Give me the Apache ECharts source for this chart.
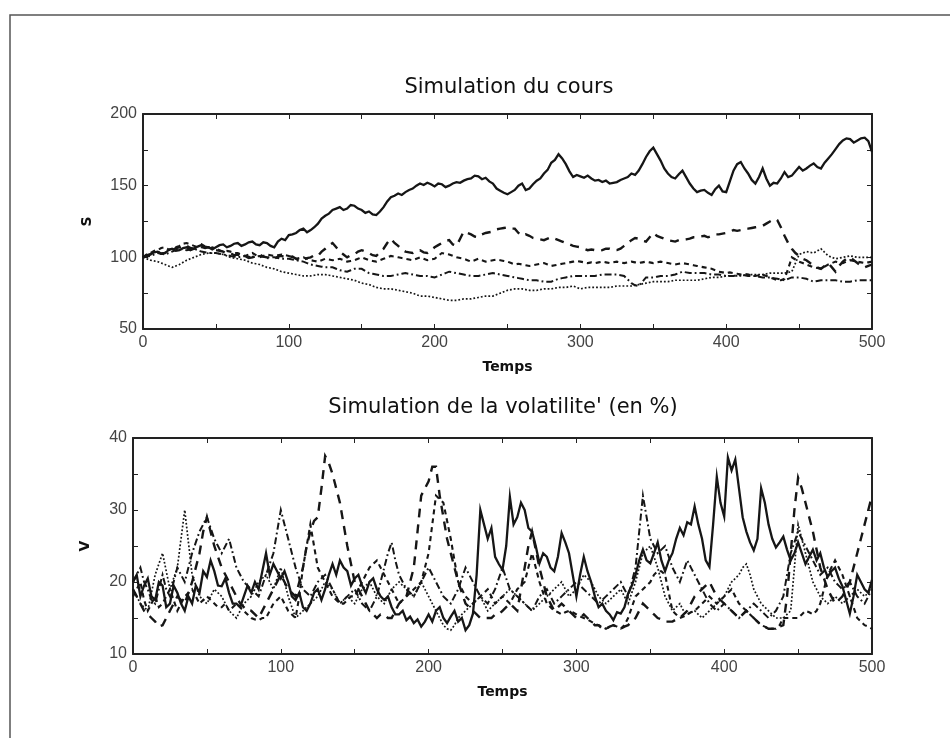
<!DOCTYPE html>
<html>
<head>
<meta charset="utf-8">
<title>Simulation du cours et de la volatilité</title>
<script src="https://cdn.jsdelivr.net/npm/echarts@6/dist/echarts.min.js"></script>
<style>
  html, body { margin: 0; padding: 0; background: #fff; }
  #chart { width: 950px; height: 738px; }
</style>
</head>
<body>
<div id="chart"></div>
<script>
// Time grid shared by every path (one value every 2.5 steps)
const temps = [
  0,2.5,5,7.5,10,12.5,15,17.5,20,22.5,25,27.5,30,32.5,35,37.5,40,42.5,45,47.5,
  50,52.5,55,57.5,60,62.5,65,67.5,70,72.5,75,77.5,80,82.5,85,87.5,90,92.5,95,97.5,
  100,102.5,105,107.5,110,112.5,115,117.5,120,122.5,125,127.5,130,132.5,135,137.5,140,142.5,145,147.5,
  150,152.5,155,157.5,160,162.5,165,167.5,170,172.5,175,177.5,180,182.5,185,187.5,190,192.5,195,197.5,
  200,202.5,205,207.5,210,212.5,215,217.5,220,222.5,225,227.5,230,232.5,235,237.5,240,242.5,245,247.5,
  250,252.5,255,257.5,260,262.5,265,267.5,270,272.5,275,277.5,280,282.5,285,287.5,290,292.5,295,297.5,
  300,302.5,305,307.5,310,312.5,315,317.5,320,322.5,325,327.5,330,332.5,335,337.5,340,342.5,345,347.5,
  350,352.5,355,357.5,360,362.5,365,367.5,370,372.5,375,377.5,380,382.5,385,387.5,390,392.5,395,397.5,
  400,402.5,405,407.5,410,412.5,415,417.5,420,422.5,425,427.5,430,432.5,435,437.5,440,442.5,445,447.5,
  450,452.5,455,457.5,460,462.5,465,467.5,470,472.5,475,477.5,480,482.5,485,487.5,490,492.5,495,497.5,
  500
];

// ---- Price paths S ----
const coursTrait = [
  100,101.5,102,103.5,104,102.5,103,105,106,104.5,105,106.5,107,105,106,107.5,108.5,106.5,107,105.5,
  107,108.5,109,107,108,109.5,110,108,109,110.5,111,109,108.5,110.5,110,108,107,111,113,112,
  115.5,116,117,119,120,117.5,119,121,123.5,127,129,130.5,133,134,135,133,134,136.5,136,134,
  133,131,132,130,129.5,132,135,139,142,143,144.5,143.5,145.5,147,148,150,151.5,150.5,152,151,
  149.5,151.5,151,149,150,151.5,152.5,152,153.5,154.5,155,157,156.5,154.5,155.5,153,151.5,148,146.5,145,
  144,145.5,147,150,151.5,147,148,151,153.5,155,158.5,161,166,168,172,169,165,160,156,157.5,
  156.5,155.5,157,155,153.5,154,152.5,153.5,151.5,152,152.5,154,155,156,158.5,157.5,160.5,165,170,174,
  176.5,172,167.5,162,158.5,156,155,158,160.5,156,151.5,148,145.5,146.5,147,145,143.5,147.5,150,146,
  145.5,153,160.5,165,166.5,162,158.5,154,151.5,156,162,155,150,152,151.5,155,159.5,156,157,160,
  163,160.5,162,164,165.5,163,162,166,169,172,175.5,179,181.5,183,182.5,180,181.5,183,183.5,181,
  173.5
];
const coursTiretLong = [
  100,101,102,103.5,104,102.5,103,104.5,105,106.5,107,108.5,108,106.5,106,108,109,107.5,107,106,
  105,104.5,104,102.5,103,101.5,102,100.5,101,99.5,100,101.5,102,100.5,100,98.5,99,100.5,101,100,
  100,100.5,99,97.5,98,99.5,100,101.5,101,104,106,108.5,110,107,104,102,100,101.5,102,104,
  105,104,103,101.5,101,103.5,106,110,113,110,108,105.5,104,103.5,103,104.5,105,103.5,103,105,
  107,108.5,110,111.5,112,109,108,113,118,117,116,114.5,114,116,117,117.5,118,119.5,120,120.5,
  121,120,120,117,115,116,115,113.5,113,112.5,112,113,114,113,112,111,110,109,108,107.5,
  107,106,105,105.5,105,104.5,105,106,106,105,105,106,108,110,112,113.5,113,111.5,111,114,
  117,115,114,113,112,111.5,111,112,112,112.5,113,114,114,114.5,115,114,115,116,116,116.5,
  117,118,119,118.5,119,120,120,120.5,121,121.5,122,123.5,125,126.5,126,121,115,110,106,103,
  101,99,98,96,95,93,92,94,96,93,90,94,97,99,100,98,96,94,93,94,
  95
];
const coursTiret = [
  100,102,103,104.5,105,106.5,107,105.5,106,107,108,109.5,110,109,108,107,107,106.5,106,107,
  106,105,104,104.5,104,103,103,102,101,102,103,101.5,100,101,102,101.5,101,101.5,102,101.5,
  101,100,99,99.5,100,99,98,97.5,97,98,99,98.5,98,98.5,99,98,97,97.5,98,99,
  100,99,98,97.5,97,98,99,100,101,100.5,100,99.5,99,98.5,98,99,100,99,98,98.5,
  99,101,103,102.5,102,101,100,99.5,99,98,97,98,99,98,97,97.5,98,98.5,98,97.5,
  97,96,95,95.5,95,94.5,94,94.5,95,95.5,96,95,94,94.5,95,95.5,96,96.5,97,97.5,
  97,96.5,96,96.5,96,96.5,97,96.5,96,96.5,97,96.5,96,96.5,97,96.5,96,96.5,97,96.5,
  96,96.5,97,96.5,96,95.5,95,95.5,96,95.5,95,94.5,94,93.5,93,92.5,92,91,90,89.5,
  89,89.5,89,88.5,88,88.5,88,87.5,87,87.5,88,87,86,85,84,84,85,92,100,98.5,
  97,96,95,94,93,92.5,92,93.5,95,96,97,96.5,96,97,98,97.5,97,96.5,96,96.5,
  97
];
const coursTiretPoint = [
  100,100.5,101,102,103,102.5,102,103,104,105,106,105.5,105,105.5,106,105,104,103.5,103,103,
  103,102.5,102,101.5,101,100.5,100,100.5,101,100.5,100,100.5,101,100.5,100,100,100,99.5,99,99,
  99,98.5,98,97.5,97,96,95,94.5,94,93.5,93,93,93,92,91,90.5,90,91,92,92,
  92,90.5,89,88.5,88,87.5,87,87,87,87.5,88,88.5,89,88.5,88,87.5,87,87,87,86.5,
  86,87,88,89,90,89.5,89,88.5,88,87.5,87,87,87,87.5,88,88.5,89,88.5,88,87.5,
  87,86.5,86,85.5,85,84.5,84,84,84,83.5,83,83,83,84,85,85.5,86,86.5,87,87,
  87,87,87,87,87,87.5,88,88,88,88,88,87.5,87,84.5,82,80.5,80,83,86,86,
  86,86.5,87,87,87,87.5,88,89,90,89.5,89,89,89,89,89,88.5,88,88,88,87.5,
  87,87,87,87.5,88,87.5,87,87,87,86.5,86,86,86,85.5,85,84.5,84,85,86,86,
  86,85.5,85,84,83,83.5,84,84,84,84,84,83.5,83,83,83,83.5,84,84,84,84,
  84
];
const coursPointille = [
  100,99,98,97.5,97,96,95,94,93,94,95,96.5,98,99,100,101,102,102.5,103,103,
  103,102.5,102,101,100,99.5,99,98.5,98,97,96,95.5,95,94,93,92.5,92,91,90,89.5,
  89,88.5,88,87.5,87,87,87,87.5,88,88,88,87.5,87,86.5,86,85.5,85,84.5,84,83,
  82,81.5,81,80,79,78.5,78,78,78,77.5,77,76.5,76,75.5,75,74,73,73,73,72.5,
  72,71.5,71,70.5,70,70,70,70.5,71,71,71,71.5,72,72.5,73,73,73,74,75,76,
  77,77.5,78,78,78,77.5,77,77,77,77.5,78,78,78,78.5,79,79,79,79.5,80,79,
  78,78.5,79,79,79,79,79,79,79,79.5,80,80,80,80,80,80.5,81,81.5,82,82.5,
  83,83,83,83,83,83.5,84,84,84,84,84,84,84,84.5,85,85.5,86,86,86,86.5,
  87,87,87,87,87,87.5,88,88,88,88,88,88.5,89,89,89,89,89,89.5,90,96,
  102,103,104,103.5,103,104.5,106,103.5,101,100,99,99.5,100,100.5,101,100.5,100,100,100,100,
  100
];

// ---- Volatility paths V (in %) ----
const volTrait = [
  20,21,18,19.5,20.5,18,17.5,20,19.5,16.5,17,19.5,18.5,17,16,18,17,19.5,18.5,21.5,
  20.7,23,21.5,19.5,19.4,20.5,18.5,17,17,16.5,18,19.5,18.5,20,19,21.5,24,21,22.5,21.5,
  20.5,21.5,20,18,17.5,18.5,16.5,16,17,18.5,19,17.5,19,21,22.5,21,23,22,21.5,19.5,
  20.5,21,19.5,18.5,20,20.5,19,18,17.5,18,16.5,15.5,15.5,16,14.7,15.2,14.3,14.8,13.8,14.5,
  15.5,14.5,16,16.5,15,14.3,15.2,16,14.5,15,13.3,14,15.6,21,30,28,26,27.5,23.5,22.5,
  21.7,25,31.8,28,29,31,30,27.5,27,25,22.6,24,23.5,22,21.5,23.5,26.8,25.5,24,21,
  18,21,23.5,21.5,20,18,16.5,17,16,15.5,14.7,15.8,15.6,16.5,18.4,19.5,21,23,24.5,23,
  22.6,24,25.5,23,21.5,23,24,26,27.5,26.5,28.3,28,30.5,28,26,23,22.1,28,34.6,31,
  29.1,37.3,35.5,37,33,29,27,25.5,24.4,26,33,31,28,26,24.8,25.5,26.3,24.5,23,24,
  25.5,24,22.5,23.5,24.5,23,24,22,20.7,21.5,22,20.5,19.4,17.5,15.6,18,21,20,19,18.5,
  20.3
];
const volTiretLong = [
  19,18,17,16,15.5,15,14.5,13.8,14,15,16,17,18,17.5,17,18.5,20,22,24,27,
  29,27,25,23.5,22,21,20,19,18,17,16.5,16,16,15.5,15,16,17,18,19,20,
  21,20,19,18.5,18,20,22,25,27,28.5,29,33,37.5,36.5,35,33,31,28,25,22.5,
  20,19,18,17,16,15.5,15,15.5,15.5,15,15,16,17,17.5,18,20,22,27,32,33,
  34,36,36,32,29,26,24,22,20,18.5,17,16.5,16,15.5,15,15,15,15,15.5,15.5,
  16,16.5,17,16.5,16,19,22,25,27,24.5,22,20,18,17,16,16.5,17,16.5,16,15.5,
  15,15,15.5,15,14.5,14,14,13.5,13.5,13.8,14,13.8,13.5,13.8,14,14.5,15,16,17,16.5,
  16,15.5,15,14.8,14.5,14.5,14.5,14.8,15,15.5,16,17,18,18.5,19,19.5,20,19,18,17.5,
  17,16.5,16,15.5,15,15.5,16,15.5,15,14.5,14,13.8,13.5,13.5,13.5,13.8,14,18,24,30,
  34.5,33,31,29,27,24.5,22,20.5,19,18,17,17.5,18,19,20,22,24,26,28,30,
  32
];
const volTiret = [
  18,19,20,17.5,16,17,18,16.5,17,18,19,17.5,16,17,18,18.5,19,18,17,17.5,
  18,17.5,17,16.5,16.5,17,16,16.5,17,16.5,16,15.5,15,14.8,14.7,15,15,16,17,17.5,
  18,17,16,15.5,15,18,22,25,28,25,22,21,20,19,18,17.5,17,17,17.5,18,
  18,19,20,21,22,22.5,23,22,21,20,19,18,17,17.5,18,18.5,19,19.5,20,22,
  24,28,32,31.5,31,28.5,26,23,20,19,18,17.5,17,17.5,18,18.5,19,18,17,17.5,
  18,17.5,17,18,19,19.5,20,22,24,22,20,18.5,17,16.5,16,15.8,15.5,15.8,16,15.8,
  15.5,15.2,15,14.8,14.5,14.2,14,13.8,13.5,13.8,14,13.8,13.5,14,15,16.5,18,18.5,19,19.5,
  20,21,21.5,21.5,21,18.5,16,15.5,15,15.2,15.5,15.8,16,16.5,17,17.5,18,17.5,17,17.5,
  18,18.5,19,18,17,16.5,16,15.5,15,14.5,14,13.8,13.5,13.5,13.5,14,15,15,15,15,
  15,15.5,16,15.8,15.5,16,17,19,21,22,23,22,21,19.5,18,16.5,15,14.5,14,13.8,
  13.5
];
const volTiretPoint = [
  20,21,22,20,19,17.5,17,19,21,19,18,20,22,21,20,22,24,25.5,27,28,
  29,27.5,26,25,24,25,26,24,22,21,20,19.5,19,18.5,18,19.5,21,22.5,24,27,
  30,28,26,24,22,20.5,19,18.5,18,19,20,20.5,21,20,19,18,17,17.5,18,18.5,
  19,18,17,16.5,16,17,18,20,22,24,25.5,23,21,20,19,18.5,18,19,20,21,
  22,21,20,19,18,17.5,17,18,19,20.5,22,21,20,19,18,17.5,17,18,19,20.5,
  22,20.5,19,18.5,18,17.5,17,16.5,16,17,18,18.5,19,18,17,17.5,18,18.5,19,19.5,
  20,19.5,19,18.5,18,17.5,17,17.5,18,18.5,19,19.5,20,19,18,20,22,27,32,29,
  26,25,24,24.5,25,23.5,22,21,20,21.5,23,22,21,20,19,18,17,16.5,16,16.5,
  17,16.5,16,15.5,15,15.5,16,16.5,17,16.5,16,15.5,15,15.5,16,17,18,21,24,25.5,
  27,26,25,24,23,22,21,21.5,22,21,20,19.5,19,19.5,20,19,18,17.5,17,18,
  19
];
const volPointille = [
  19,18,17,16.5,16,18.5,21,22.5,24,21.5,19,20.5,22,26,30,25.5,21,19.5,18,17.5,
  17,18,19,18.5,18,17,16,15.5,15,16,17,17.5,18,19,20,20.5,21,20,19,20.5,
  22,20,18,16.5,15,15.5,16,16.5,17,17.5,18,19,20,19.5,19,18,17,17.5,18,17.5,
  17,18,19,19.5,20,19,18,17.5,17,18,19,19.5,20,19.5,19,18.5,18,19,20,19,
  18,17,16,15,14,13.5,13.3,14,15,15.5,16,16.5,17,17.5,18,17,16,16.5,17,17.5,
  18,18.5,19,18.5,18,17.5,17,16.5,16,16.5,17,17.5,18,18.5,19,19.5,20,19,18,18.5,
  19,20,21,20.5,20,19,18,17.5,17,17.5,18,18.5,19,18,17,18.5,20,22,24,24.5,
  25,23.5,22,20,18,17,16,16.5,17,16,15.5,15.8,16,15.5,15,15.5,16,16.5,17,17.5,
  18,19,20,20.5,21,22,22.5,21,19,18,17,16.5,16,15.5,15,15,15,15.5,16,22,
  28,26,24,22,20,19,18,17.5,17,17.5,18,17.5,17,17.5,18,18.5,19,18.5,18,18.5,
  19
];

// Axis ticks and labels
const ticksTemps = { min: 0, max: 500, interval: 100 };
const ticksCours = { min: 50, max: 200, interval: 50 };
const ticksVol = { min: 10, max: 40, interval: 10 };

const INK = '#161616';
const AXIS = '#222';
const LABEL = '#444';

// Line styles for the five paths: solid, long dash, dash, dash-dot, dotted
const styles = [
  { width: 2.3, type: 'solid' },
  { width: 2.4, type: [9, 7] },
  { width: 2.1, type: [5, 4] },
  { width: 2.0, type: [7, 3, 1.8, 3] },
  { width: 1.7, type: [1.8, 2] }
];

function pairs(values) {
  return temps.map((t, i) => [t, values[i]]);
}

function makeX(gridIndex, position, withLabels) {
  return {
    gridIndex, type: 'value', position,
    min: ticksTemps.min, max: ticksTemps.max, interval: ticksTemps.interval,
    axisLine: { show: true, onZero: false, lineStyle: { color: AXIS, width: 2 } },
    axisTick: { show: true, inside: true, length: 5, lineStyle: { color: AXIS, width: 1 } },
    minorTick: { show: true, splitNumber: 2, length: 5, lineStyle: { color: AXIS, width: 1 } },
    splitLine: { show: false },
    axisLabel: {
      show: withLabels, color: LABEL, fontSize: 16, margin: 6,
      fontFamily: 'Liberation Sans, Arial, sans-serif'
    },
    name: withLabels ? 'Temps' : '',
    nameLocation: 'middle', nameGap: 31,
    nameTextStyle: {
      color: '#111', fontSize: 14, fontWeight: 'bold',
      fontFamily: 'DejaVu Sans, sans-serif'
    }
  };
}

function makeY(gridIndex, position, ticks, withLabels, label, gap) {
  return {
    gridIndex, type: 'value', position,
    min: ticks.min, max: ticks.max, interval: ticks.interval,
    axisLine: { show: true, onZero: false, lineStyle: { color: AXIS, width: 2 } },
    axisTick: { show: true, inside: true, length: 5, lineStyle: { color: AXIS, width: 1 } },
    minorTick: { show: true, splitNumber: 2, length: 5, lineStyle: { color: AXIS, width: 1 } },
    splitLine: { show: false },
    axisLabel: {
      show: withLabels, color: LABEL, fontSize: 16, margin: 6,
      fontFamily: 'Liberation Sans, Arial, sans-serif'
    },
    name: withLabels ? label : '',
    nameLocation: 'middle', nameGap: gap, nameRotate: 90,
    nameTextStyle: {
      color: '#111', fontSize: 14, fontWeight: 'bold',
      fontFamily: 'DejaVu Sans, sans-serif'
    }
  };
}

function makeSeries(values, idx, axisIndex) {
  return {
    type: 'line',
    xAxisIndex: axisIndex, yAxisIndex: axisIndex,
    data: pairs(values),
    showSymbol: false, symbol: 'none',
    silent: true,
    lineStyle: { color: INK, width: styles[idx].width, type: styles[idx].type, cap: 'butt', join: 'miter' }
  };
}

const chart = echarts.init(document.getElementById('chart'), null, { renderer: 'canvas' });

chart.setOption({
  animation: false,
  backgroundColor: '#fff',
  title: [
    {
      text: 'Simulation du cours', left: 504, top: 72, textAlign: 'center',
      textStyle: { color: '#111', fontSize: 21, fontWeight: 'normal', fontFamily: 'DejaVu Sans, sans-serif' }
    },
    {
      text: "Simulation de la volatilite' (en %)", left: 498, top: 392, textAlign: 'center',
      textStyle: { color: '#111', fontSize: 21, fontWeight: 'normal', fontFamily: 'DejaVu Sans, sans-serif' }
    }
  ],
  grid: [
    { left: 143, top: 114, width: 729, height: 215, containLabel: false },
    { left: 133, top: 438, width: 739, height: 216, containLabel: false }
  ],
  xAxis: [
    makeX(0, 'bottom', true),
    makeX(0, 'top', false),
    makeX(1, 'bottom', true),
    makeX(1, 'top', false)
  ],
  yAxis: [
    makeY(0, 'left', ticksCours, true, 'S', 49),
    makeY(0, 'right', ticksCours, false, '', 0),
    makeY(1, 'left', ticksVol, true, 'V', 41),
    makeY(1, 'right', ticksVol, false, '', 0)
  ],
  series: [
    makeSeries(coursTrait, 0, 0),
    makeSeries(coursTiretLong, 1, 0),
    makeSeries(coursTiret, 2, 0),
    makeSeries(coursTiretPoint, 3, 0),
    makeSeries(coursPointille, 4, 0),
    makeSeries(volTrait, 0, 2),
    makeSeries(volTiretLong, 1, 2),
    makeSeries(volTiret, 2, 2),
    makeSeries(volTiretPoint, 3, 2),
    makeSeries(volPointille, 4, 2)
  ],
  graphic: [
    // page frame (left and top edges)
    { type: 'polyline', silent: true,
      shape: { points: [[10, 738], [10, 15], [950, 15]] },
      style: { stroke: '#555', lineWidth: 1.5, fill: null } }
  ]
});
</script>
</body>
</html>
